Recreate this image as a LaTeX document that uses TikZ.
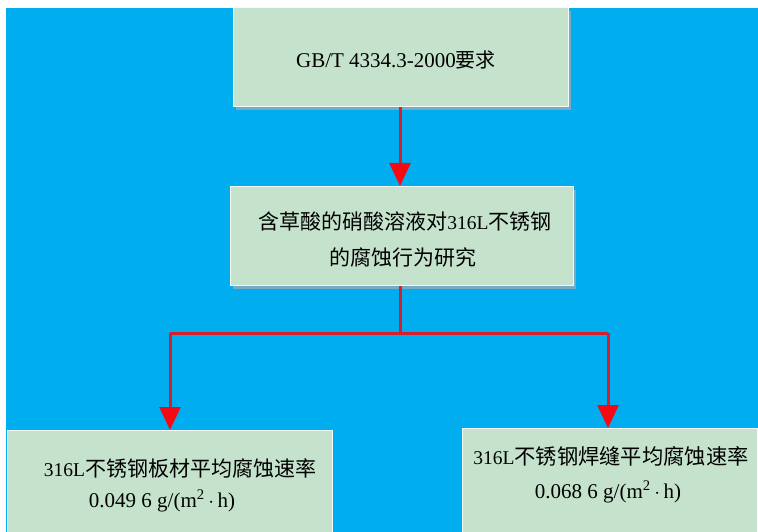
\documentclass[tikz,border=0pt]{standalone}
\usepackage{fontspec}
\setmainfont{Liberation Serif}
\newfontfamily\cjk[Scale=1.0]{Noto Sans CJK SC}
\usetikzlibrary{arrows.meta}
\definecolor{bgblue}{RGB}{0,174,239}
\definecolor{boxgreen}{RGB}{197,227,204}
\definecolor{boxshadow}{RGB}{120,170,200}
\definecolor{linered}{RGB}{214,30,45}
\definecolor{headred}{RGB}{245,10,20}
\tikzset{
  box/.style={draw=white!85!boxgreen, line width=1pt, fill=boxgreen, inner sep=0pt},
  txt/.style={inner sep=0pt, anchor=center},
  conn/.style={draw=linered, line width=3pt},
  arr/.style={conn, -{Triangle[width=21pt,length=23pt,color=headred,fill=headred]}}
}
\begin{document}
\begin{tikzpicture}[x=1pt,y=-1pt]
\useasboundingbox (0,0) rectangle (758,532);
\fill[white] (0,0) rectangle (758,532);
\fill[bgblue] (6,8) rectangle (758,532);
% shadows
\fill[boxshadow] (236,11) rectangle (571,110);
\fill[boxshadow] (233,190) rectangle (576,289);
% boxes
\draw[box] (233,8) rectangle (568,107);
\draw[box] (230,187) rectangle (573,285);
\draw[box] (7,430) rectangle (332,533);
\draw[box] (462,428) rectangle (757,533);
\coordinate (topB) at (400,107);
\coordinate (midT) at (400,186);
\coordinate (midB) at (400,286);
\coordinate (split) at (400,333);
\coordinate (lcorner) at (170,333);
\coordinate (rcorner) at (608,333);
\coordinate (lT) at (170,430);
\coordinate (rT) at (608,428);
% texts
\node[txt] (t1) at (396,60) {\fontsize{21}{24}\selectfont GB/T 4334.3-2000{\fontsize{20}{24}\selectfont\cjk 要求}};
\node[txt] (t2) at (405,221) {{\fontsize{21}{24}\selectfont\cjk 含草酸的硝酸溶液对}{\fontsize{19.5}{24}\selectfont 316L}{\fontsize{21}{24}\selectfont\cjk 不锈钢}};
\node[txt] (t3) at (403,257) {\fontsize{21}{24}\selectfont\cjk 的腐蚀行为研究};
\node[txt] (t4) at (180,468) {\fontsize{19.5}{24}\selectfont 316L{\fontsize{21}{24}\selectfont\cjk 不锈钢板材平均腐蚀速率}};
\node[txt] (t5) at (162,501) {\fontsize{21}{24}\selectfont 0.049 6 g/(m\textsuperscript{2}\,$\cdot$\,h)};
\node[txt] (t6) at (611,456) {\fontsize{19.5}{24}\selectfont 316L{\fontsize{21.3}{24}\selectfont\cjk 不锈钢焊缝平均腐蚀速率}};
\node[txt] (t7) at (608,492) {\fontsize{21}{24}\selectfont 0.068 6 g/(m\textsuperscript{2}\,$\cdot$\,h)};
% connectors
\draw[arr] (topB) -- (midT);
\draw[conn] (midB) -- (split);
\draw[conn] (lcorner) -- (rcorner);
\draw[arr] (lcorner) -- (lT);
\draw[arr] (rcorner) -- (rT);
\end{tikzpicture}
\end{document}
